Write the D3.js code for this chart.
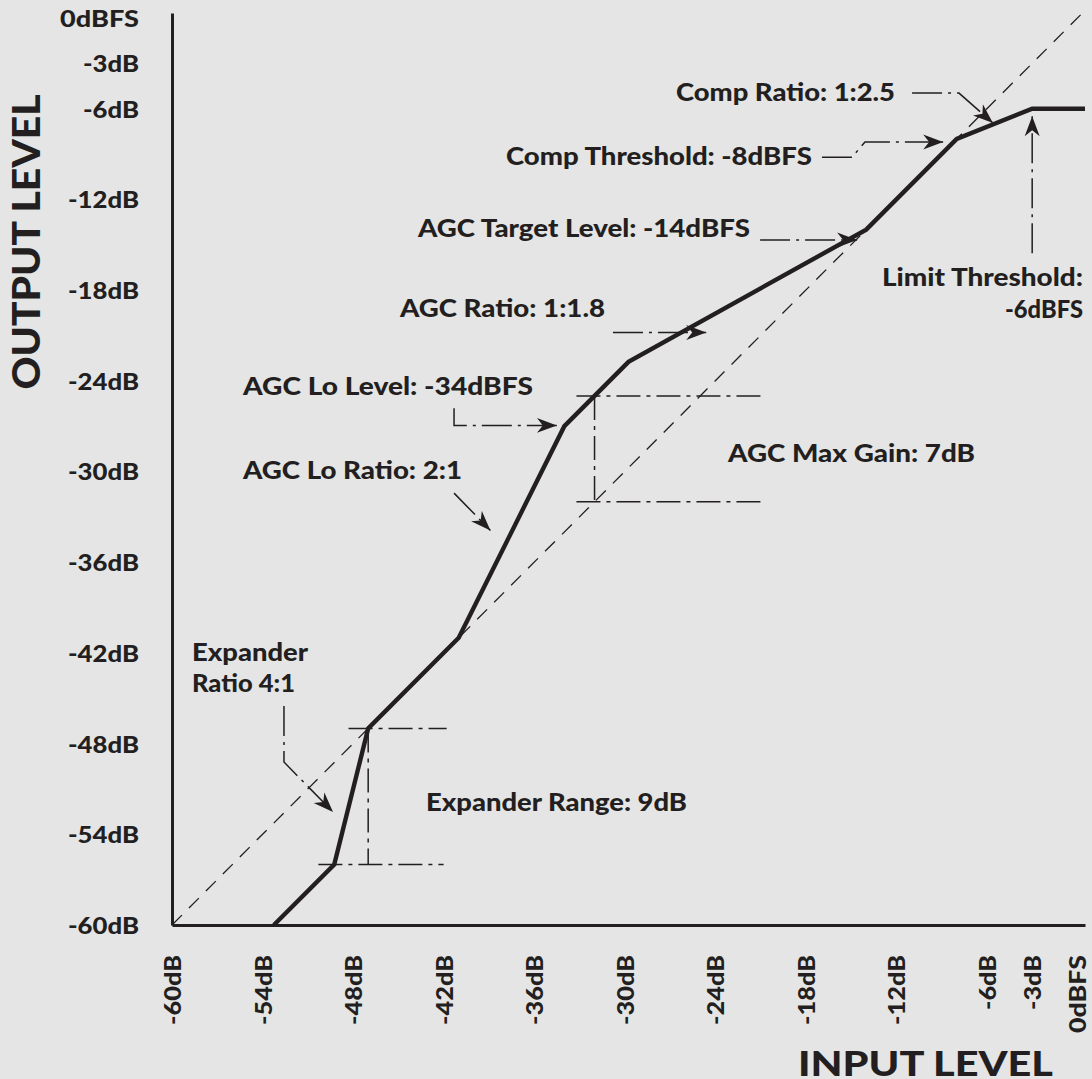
<!DOCTYPE html>
<html><head><meta charset="utf-8">
<script src="https://cdn.jsdelivr.net/npm/d3@7"></script>
<style>
html,body{margin:0;padding:0;background:#e5e5e5;}
svg{display:block;font-family:Lato,"Open Sans",sans-serif;font-weight:900;}
</style></head><body>
<svg id="chart" width="1092" height="1079"></svg>
<script>
// ---------- data (dB) ----------
const xTickValues = [-60,-54,-48,-42,-36,-30,-24,-18,-12,-6,-3,0];
const xTickLabels = ["-60dB","-54dB","-48dB","-42dB","-36dB","-30dB","-24dB","-18dB","-12dB","-6dB","-3dB","0dBFS"];
const yTickValues = [0,-3,-6,-12,-18,-24,-30,-36,-42,-48,-54,-60];
const yTickLabels = ["0dBFS","-3dB","-6dB","-12dB","-18dB","-24dB","-30dB","-36dB","-42dB","-48dB","-54dB","-60dB"];

// transfer curve: input level -> output level
const curveIn  = [-53.25,-49.25,-47,-41,-34,-29.75,-14,-8,-3,0.5];
const curveOut = [-60,   -56,   -47,-41,-27,-22.75,-14,-8,-6,-6];
// unity reference line
const unityIn  = [-60,0.5];
const unityOut = [-60,0.5];

// dash-dot guide segments [x1,y1,x2,y2] in dB
const guideSegments = [
  [-48.3,-47,-41.8,-47],   // expander top
  [-50.3,-56,-42.0,-56],   // expander bottom
  [-47,-47,-47,-56],       // expander vertical
  [-33.2,-25,-20.8,-25],   // AGC max gain top
  [-33.2,-32,-20.8,-32],   // AGC max gain bottom
  [-32,-25,-32,-32]        // AGC max gain vertical
];

// annotation leader arrows (input dB, output dB), last point is the arrow tip
const leaderIn = [
  [-10.96,-7.85,-5.6],          // Comp Ratio
  [-16.93,-14.94,-14.08,-8.9],  // Comp Threshold
  [-21.03,-14.6],               // AGC Target Level
  [-30.78,-24.6],               // AGC Ratio
  [-3,-3],                      // Limit Threshold
  [-41.31,-41.31,-34.5],        // AGC Lo Level
  [-41.31,-38.9],               // AGC Lo Ratio
  [-52.58,-52.58,-49.33]        // Expander Ratio
];
const leaderOut = [
  [-4.97,-4.97,-6.95],
  [-9.21,-9.21,-8.2,-8.2],
  [-14.68,-14.68],
  [-20.8,-20.8],
  [-15.56,-6.5],
  [-25.81,-26.95,-26.95],
  [-31.43,-33.9],
  [-45.52,-49.22,-52.53]
];

const annotationTexts = ["Comp Ratio: 1:2.5","Comp Threshold: -8dBFS","AGC Target Level: -14dBFS",
  "AGC Ratio: 1:1.8","Limit Threshold:","-6dBFS","AGC Lo Level: -34dBFS","AGC Lo Ratio: 2:1",
  "AGC Max Gain: 7dB","Expander","Ratio 4:1","Expander Range: 9dB"];
// layout (px): x, baseline y, anchor, rendered width
const annotationLayout = [
  [676,101,"start",219],[812,165,"end",306],[750,237,"end",332],[605,317,"end",205],
  [1083,286,"end",201],[1083,318,"end",78],[243,395,"start",290],[243,479,"start",219],
  [728,462,"start",247],[192,661,"start",116],[192,692,"start",103],[426,811,"start",261]
];
const tickWidth = s => s === "0dBFS" ? 79 : (s.length === 4 ? 56 : 71);

// ---------- drawing ----------
const ink = "#231f20";
const svg = d3.select("#chart");
svg.append("rect").attr("width",1092).attr("height",1079).attr("fill","#e5e5e5");

const x = d3.scaleLinear().domain([-60,0.5]).range([172,1085]);
const y = d3.scaleLinear().domain([-60,0.33]).range([925,13]);

const defs = svg.append("defs");
defs.append("marker").attr("id","arrow")
  .attr("viewBox","-20 -8 21 16").attr("refX",0).attr("refY",0)
  .attr("markerWidth",21).attr("markerHeight",16)
  .attr("markerUnits","userSpaceOnUse").attr("orient","auto")
  .append("path").attr("d","M0,0 L-20,-7.5 L-14,0 L-20,7.5 Z").attr("fill",ink);

// axes
const yAxis = d3.axisLeft(y).tickValues(yTickValues).tickSize(0).tickPadding(0)
  .tickFormat((d,i)=>yTickLabels[i]);
const gy = svg.append("g").attr("transform",`translate(${x(-60)},0)`).call(yAxis);
gy.select(".domain").attr("stroke",ink).attr("stroke-width",3);
gy.selectAll("text").attr("x",-33).attr("dy","0.36em").attr("fill",ink)
  .attr("textLength",d=>tickWidth(yTickLabels[yTickValues.indexOf(d)])).attr("lengthAdjust","spacingAndGlyphs")
  .style("font-size","23.5px").style("font-family","Lato").style("font-weight","900");

const xAxis = d3.axisBottom(x).tickValues(xTickValues).tickSize(0).tickPadding(0)
  .tickFormat((d,i)=>xTickLabels[i]);
const gx = svg.append("g").attr("transform",`translate(0,${y(-60)})`).call(xAxis);
gx.select(".domain").attr("stroke",ink).attr("stroke-width",3);
gx.selectAll("text").attr("y",0).attr("x",0).attr("dy","0.36em")
  .attr("transform","translate(0,30) rotate(-90)").attr("text-anchor","end").attr("fill",ink)
  .attr("textLength",d=>tickWidth(xTickLabels[xTickValues.indexOf(d)])-1).attr("lengthAdjust","spacingAndGlyphs")
  .style("font-size","23.5px").style("font-family","Lato").style("font-weight","900");

// unity line
const line = d3.line().x(d=>x(d[0])).y(d=>y(d[1]));
svg.append("path").attr("d",line(d3.zip(unityIn,unityOut)))
  .attr("fill","none").attr("stroke",ink).attr("stroke-width",1.3).attr("stroke-dasharray","14,10");

// guides
svg.append("g").selectAll("line").data(guideSegments).join("line")
  .attr("x1",d=>x(d[0])).attr("y1",d=>y(d[1])).attr("x2",d=>x(d[2])).attr("y2",d=>y(d[3]))
  .attr("stroke",ink).attr("stroke-width",1.5).attr("stroke-dasharray","24,6,4,6");

// curve
svg.append("path").attr("d",line(d3.zip(curveIn,curveOut)))
  .attr("fill","none").attr("stroke",ink).attr("stroke-width",4.4)
  .attr("stroke-linejoin","miter");

// leaders
svg.append("g").selectAll("path").data(leaderIn.map((xs,i)=>d3.zip(xs,leaderOut[i]))).join("path")
  .attr("d",line).attr("fill","none").attr("stroke",ink).attr("stroke-width",1.5)
  .attr("stroke-dasharray","30,6,3,6").attr("marker-end","url(#arrow)");

// annotation texts
svg.append("g").selectAll("text").data(annotationTexts).join("text")
  .attr("x",(d,i)=>annotationLayout[i][0]).attr("y",(d,i)=>annotationLayout[i][1])
  .attr("text-anchor",(d,i)=>annotationLayout[i][2])
  .attr("textLength",(d,i)=>annotationLayout[i][3]).attr("lengthAdjust","spacingAndGlyphs")
  .attr("fill",ink).style("font-size","24.5px").text(d=>d);

// axis titles
svg.append("text").attr("transform","translate(40,242) rotate(-90)").attr("text-anchor","middle")
  .attr("textLength",295).attr("lengthAdjust","spacingAndGlyphs")
  .attr("fill",ink).style("font-size","37px").text("OUTPUT LEVEL");
svg.append("text").attr("x",798).attr("y",1076).attr("fill",ink)
  .attr("textLength",255).attr("lengthAdjust","spacingAndGlyphs")
  .style("font-size","35px").text("INPUT LEVEL");
</script>
</body></html>
